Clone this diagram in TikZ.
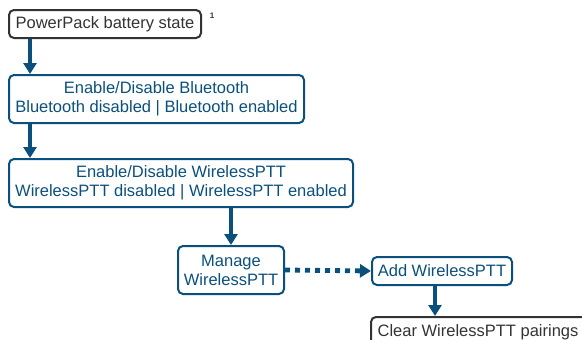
\documentclass[tikz,border=0pt]{standalone}
\usepackage{fontspec}
\setmainfont{Liberation Sans}
\usepackage{xcolor}
\usepackage{tikz}
\usetikzlibrary{arrows.meta}

\definecolor{stateblue}{HTML}{0B4F7C}
\definecolor{stategray}{HTML}{333333}

\tikzset{
    statebox/.style={draw=stateblue, text=stateblue, line width=2pt, rounded corners=5pt,
        anchor=north west, inner sep=0pt, align=center,
        font=\fontsize{16.5}{19}\selectfont},
    endbox/.style={statebox, draw=stategray, text=stategray},
    flow/.style={draw=stateblue, line width=4.8pt, -{Triangle[width=13pt,length=11pt]}},
    optflow/.style={flow, dash pattern=on 5pt off 5pt}
}

\begin{document}
\begin{tikzpicture}[x=1pt,y=-1pt]
\clip (0,0) rectangle (582,340);
\useasboundingbox (0,0) rectangle (582,340);

\node[endbox, minimum width=192pt, minimum height=28pt] (battery) at (8,9) {PowerPack battery state};
\node[text=stategray, font=\fontsize{8}{9}\selectfont\bfseries] (note) at (212,16) {1};

\node[statebox, minimum width=295pt, minimum height=48pt] (bluetooth) at (8,74)
    {Enable/Disable Bluetooth\\Bluetooth disabled | Bluetooth enabled};
\node[statebox, minimum width=344pt, minimum height=48pt] (wireless) at (8,158)
    {Enable/Disable WirelessPTT\\WirelessPTT disabled | WirelessPTT enabled};
\node[statebox, minimum width=106pt, minimum height=48pt] (manage) at (177,245)
    {Manage\\WirelessPTT};
\node[statebox, minimum width=140pt, minimum height=28pt] (add) at (371,256)
    {Add WirelessPTT};
\node[endbox, minimum width=222pt, minimum height=30pt] (clear) at (370,316)
    {Clear WirelessPTT pairings\hspace*{8pt}};

\draw[flow] ([xshift=22pt]battery.south west) -- ([xshift=22pt]bluetooth.north west);
\draw[flow] ([xshift=22pt]bluetooth.south west) -- ([xshift=22pt]wireless.north west);
\draw[flow] (manage.north |- wireless.south) -- (manage.north);
\draw[optflow] (manage.east) -- (add.west);
\draw[flow] ([xshift=-7pt]add.south) -- ([xshift=-7pt]add.south |- clear.north);
\end{tikzpicture}
\end{document}
